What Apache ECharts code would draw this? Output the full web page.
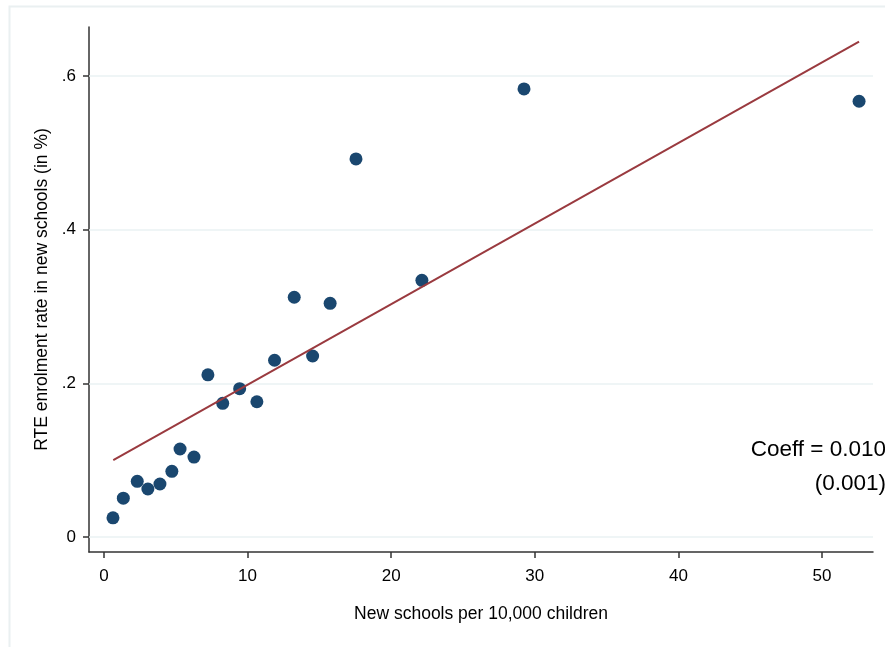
<!DOCTYPE html>
<html>
<head>
<meta charset="utf-8">
<script src="https://cdn.jsdelivr.net/npm/echarts@6/dist/echarts.min.js"></script>
<style>
html,body{margin:0;padding:0;background:#fff;}
#chart{width:885px;height:647px;}
</style>
</head>
<body>
<div id="chart"></div>
<script>
// Scatter points: new schools per 10,000 children vs RTE enrolment rate
var schoolsX = [0.63, 1.35, 2.32, 3.06, 3.90, 4.73, 5.30, 6.27, 7.24, 8.27, 9.45, 10.65, 11.88, 13.25, 14.53, 15.75, 17.55, 22.14, 29.25, 52.58];
var enrolY   = [0.025, 0.0505, 0.0725, 0.0625, 0.069, 0.0855, 0.1145, 0.104, 0.211, 0.174, 0.193, 0.176, 0.230, 0.312, 0.2355, 0.304, 0.492, 0.334, 0.583, 0.567];
// Fitted regression line endpoints
var fitX = [0.65, 52.58];
var fitY = [0.1002, 0.6445];
// Axis ticks
var xTicks = [0, 10, 20, 30, 40, 50];
var yTicks = [0, 0.2, 0.4, 0.6];
var annotationLines = ['Coeff = 0.010', '(0.001)'];

var scatterData = schoolsX.map(function (x, i) { return [x, enrolY[i]]; });
var fitData = fitX.map(function (x, i) { return [x, fitY[i]]; });

var chart = echarts.init(document.getElementById('chart'), null, {renderer: 'canvas'});
var font = 'Liberation Sans, Arial, sans-serif';

chart.setOption({
  backgroundColor: '#ffffff',
  animation: false,
  grid: {left: 89, right: 12, top: 27, bottom: 95, containLabel: false},
  graphic: [
    {type: 'rect', left: 7, top: 4, z: -10, silent: true,
     shape: {width: 900, height: 700},
     style: {fill: 'none', stroke: '#eaf0f1', lineWidth: 2}},
    {type: 'text', right: -1, top: 433, z: 10,
     style: {text: annotationLines.join('\n'), font: '22.5px ' + font, fill: '#000', textAlign: 'right', lineHeight: 34, align: 'right'}}
  ],
  xAxis: {
    type: 'value', min: -1.04, max: 53.55,
    name: 'New schools per 10,000 children', nameLocation: 'middle', nameGap: 53,
    nameTextStyle: {fontFamily: font, fontSize: 17.5, color: '#000'},
    axisLine: {show: true, onZero: false, lineStyle: {color: '#333', width: 1.5}},
    axisTick: {show: true, length: 6, lineStyle: {color: '#333', width: 1.5}, customValues: xTicks},
    axisLabel: {fontFamily: font, fontSize: 17, color: '#000', margin: 16, customValues: xTicks},
    splitLine: {show: false}
  },
  yAxis: {
    type: 'value', min: -0.0195, max: 0.6636,
    name: 'RTE enrolment rate in new schools (in %)', nameLocation: 'middle', nameGap: 33,
    nameTextStyle: {fontFamily: font, fontSize: 17.5, color: '#000'},
    axisLine: {show: true, onZero: false, lineStyle: {color: '#333', width: 1.5}},
    axisTick: {show: true, length: 6, lineStyle: {color: '#333', width: 1.5}, customValues: yTicks},
    axisLabel: {fontFamily: font, fontSize: 17, color: '#000', margin: 13, customValues: yTicks,
      formatter: function (v) { return v === 0 ? '0' : String(+v.toFixed(1)).replace(/^0/, ''); }},
    splitLine: {show: false}
  },
  series: [
    {
      type: 'scatter', data: scatterData, symbol: 'circle', symbolSize: 13, z: 3,
      itemStyle: {color: '#1a476f', opacity: 1}
    },
    {
      type: 'line', data: fitData, symbol: 'none', z: 4,
      lineStyle: {color: '#9a3a3f', width: 2},
      markLine: {
        silent: true, symbol: 'none', label: {show: false}, z: 1,
        lineStyle: {color: '#eaf2f3', width: 1.5, type: 'solid'},
        data: yTicks.map(function (v) { return {yAxis: v}; })
      }
    }
  ]
});
</script>
</body>
</html>
